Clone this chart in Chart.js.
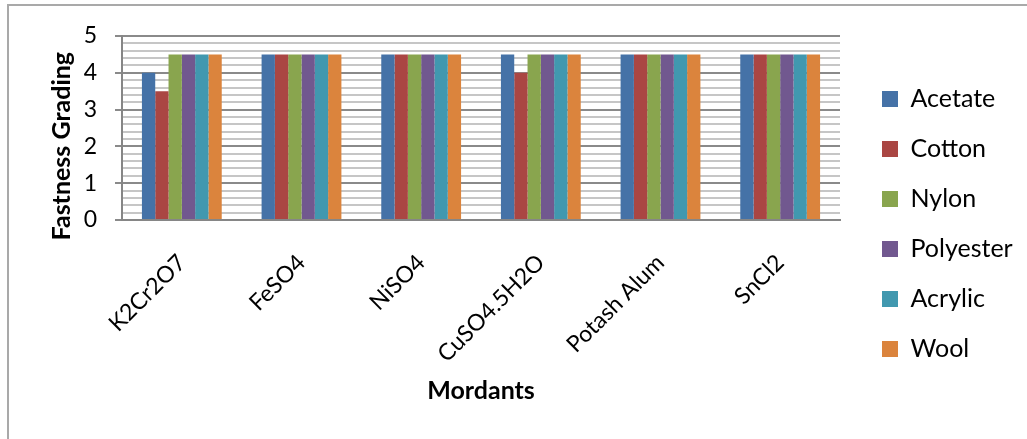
<!DOCTYPE html>
<html>
<head>
<meta charset="utf-8">
<script src="https://cdn.jsdelivr.net/npm/chart.js@4.4.1/dist/chart.umd.min.js"></script>
<style>
  html, body { margin: 0; padding: 0; background: #fff; }
  #frame { position: absolute; left: 7px; top: 4px; width: 1030px; height: 440px;
           border-left: 2px solid #a9a9a9; border-top: 2px solid #a9a9a9; }
  #chart { position: absolute; left: 0; top: 0; }
</style>
</head>
<body>
<div id="frame"></div>
<canvas id="chart" width="1027" height="439"></canvas>
<script>
// Mordants on the x axis
const mordants = ["K2Cr2O7", "FeSO4", "NiSO4", "CuSO4.5H2O", "Potash Alum", "SnCl2"];

// Fastness grading per fibre
const acetate   = [4,   4.5, 4.5, 4.5, 4.5, 4.5];
const cotton    = [3.5, 4.5, 4.5, 4,   4.5, 4.5];
const nylon     = [4.5, 4.5, 4.5, 4.5, 4.5, 4.5];
const polyester = [4.5, 4.5, 4.5, 4.5, 4.5, 4.5];
const acrylic   = [4.5, 4.5, 4.5, 4.5, 4.5, 4.5];
const wool      = [4.5, 4.5, 4.5, 4.5, 4.5, 4.5];

const fibres = ["Acetate", "Cotton", "Nylon", "Polyester", "Acrylic", "Wool"];
const colors = ["#4572A7", "#AA4643", "#89A54E", "#71588F", "#4198AF", "#DB843D"];
const seriesValues = [acetate, cotton, nylon, polyester, acrylic, wool];

const isMajor = (v) => Math.abs(v - Math.round(v)) < 1e-6;

// keep the legend column a fixed width so it sits where the original has it
const legendWidth = {
    id: "legendWidth",
    beforeLayout(chart) {
        const lg = chart.legend;
        if (lg && !lg._fixedWidth) {
            const fit = lg.fit.bind(lg);
            lg.fit = function () { fit(); this.width = 170; };
            lg._fixedWidth = true;
        }
    },
};

Chart.defaults.font.family = "Lato, 'Open Sans', sans-serif";
Chart.defaults.color = "#000";

new Chart(document.getElementById("chart"), {
    type: "bar",
    data: {
        labels: mordants,
        datasets: fibres.map((name, i) => ({
            label: name,
            data: seriesValues[i],
            backgroundColor: colors[i],
            borderWidth: 0,
            categoryPercentage: 0.667,
            barPercentage: 1,
        })),
    },
    plugins: [legendWidth],
    options: {
        responsive: false,
        animation: false,
        layout: { padding: { left: 47, top: 36, right: 0, bottom: 27 } },
        plugins: {
            tooltip: { enabled: false },
            legend: {
                position: "right",
                labels: {
                    boxWidth: 16,
                    boxHeight: 16,
                    padding: 25,
                    font: { size: 25 },
                },
            },
        },
        scales: {
            x: {
                grid: { display: false, drawTicks: false },
                border: { display: true, color: "#868686", width: 2 },
                ticks: { minRotation: 45, maxRotation: 45, padding: 29, font: { size: 23 } },
                title: {
                    display: true,
                    text: "Mordants",
                    font: { size: 25, weight: "bold" },
                    padding: { top: 0, bottom: 6 },
                },
                afterFit: (scale) => { scale.height = 192; },
            },
            y: {
                min: 0,
                max: 5,
                ticks: {
                    stepSize: 0.2,
                    autoSkip: false,
                    padding: 18,
                    font: { size: 23 },
                    callback: (v) => (isMajor(v) ? Math.round(v) : ""),
                },
                grid: {
                    color: (ctx) => (isMajor(ctx.tick.value) ? "#8a8a8a" : "#c6c6c6"),
                    tickColor: (ctx) => (isMajor(ctx.tick.value) ? "#8a8a8a" : "rgba(0,0,0,0)"),
                    lineWidth: 2,
                    tickLength: 7,
                },
                border: { display: true, color: "#868686", width: 2 },
                title: {
                    display: true,
                    text: "Fastness Grading      ",
                    font: { size: 25, weight: "bold" },
                    padding: { top: 0, bottom: 0 },
                },
                afterFit: (scale) => { scale.width = 75; },
            },
            // spacer between plot area and legend
            gap: {
                position: "right",
                display: true,
                grid: { display: false, drawTicks: false },
                border: { display: false },
                ticks: { display: false },
                afterFit: (scale) => { scale.width = 17; },
            },
        },
    },
});
</script>
</body>
</html>
